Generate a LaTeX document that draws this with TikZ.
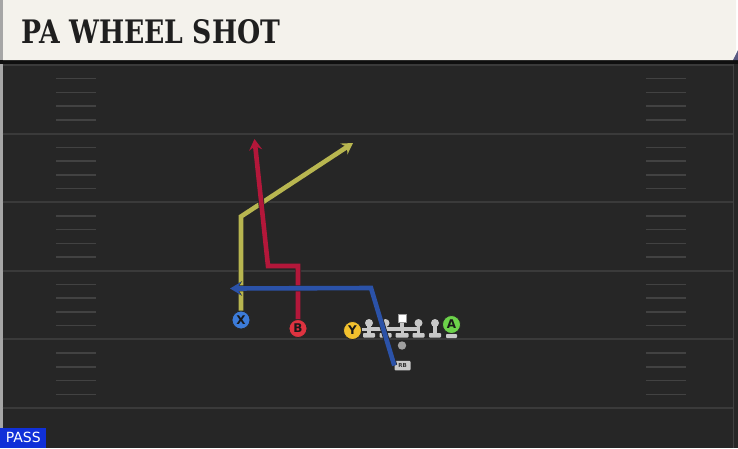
\documentclass[tikz,border=0pt]{standalone}
\usepackage{fontspec}
\usetikzlibrary{arrows.meta}
\newfontfamily\titlefont{DejaVu Serif}
\newfontfamily\labfont{DejaVu Sans}
\definecolor{fieldbg}{HTML}{262626}
\definecolor{yardc}{HTML}{3A3A3A}
\definecolor{hashc}{HTML}{424242}
\definecolor{cream}{HTML}{F4F2EC}
\definecolor{rtyel}{HTML}{B8B650}
\definecolor{rtred}{HTML}{B3173A}
\definecolor{rtblue}{HTML}{2B52A8}
\definecolor{pblue}{HTML}{3C7BD8}
\definecolor{pred}{HTML}{DE3340}
\definecolor{pyel}{HTML}{F2C12E}
\definecolor{pgreen}{HTML}{6CD24A}
\definecolor{lgrey}{HTML}{C8C8C8}
\definecolor{passblue}{HTML}{1030D8}
\tikzset{
  route/.style={line width=4.6pt, line join=miter, -{Stealth[length=11pt,width=13pt,inset=4pt]},
    preaction={draw=black!85, line width=6pt, -{Stealth[length=12pt,width=14.5pt,inset=4.5pt]}}},
  player/.style={circle, draw=black!85, line width=0.8pt, minimum size=18pt, inner sep=0pt,
    font=\labfont\bfseries\fontsize{12}{12}\selectfont, text=black!90},
  yardline/.style={draw=yardc, line width=2pt},
  hashmark/.style={draw=hashc, line width=1.5pt},
  lmen/.style={fill=lgrey, draw=none},
}
\begin{document}
\begin{tikzpicture}[x=1pt,y=-1pt]
\useasboundingbox (0,0) rectangle (738,448);
% field
\fill[fieldbg] (0,60) rectangle (738,448);
\fill[black!60!fieldbg] (0,60) rectangle (738,64);
\fill[black!35] (0,64) rectangle (2.5,448);
\draw[black!75, line width=1pt] (733.5,64) -- (733.5,448);
% yard lines
\foreach \y in {65,133.6,202.2,270.8,339.4,408}{
  \draw[yardline] (2.5,\y) -- (733,\y);
}
% hash marks
\foreach \y in {65,133.6,202.2,270.8,339.4}{
  \foreach \f in {1,2,3,4}{
    \draw[hashmark] (56,{\y+\f*13.72}) -- (96,{\y+\f*13.72});
    \draw[hashmark] (646,{\y+\f*13.72}) -- (686,{\y+\f*13.72});
  }
}
% header
\fill[cream] (3,0) -- (736,0) -- (736,51) -- (733,60) -- (3,60) -- cycle;
\fill[black!35] (0,0) rectangle (3,60);
\fill[black!50!blue!30!gray] (733,60) -- (738,50) -- (738,60) -- cycle;
\node[anchor=west, inner sep=0pt, text=black!88] (title) at (21,32)
  {\resizebox{259pt}{24pt}{\titlefont\bfseries PA WHEEL SHOT}};
% nodes for players
\node[player, fill=pblue] (X) at (241,320) {X};
\node[player, fill=pred] (B) at (298,328.5) {B};
\node[player, fill=pyel] (Y) at (352.5,330.5) {Y};
\node[player, fill=pgreen] (A) at (451.5,324.5) {A};
% route coordinates
\coordinate (x1) at (241,216.5);
\coordinate (x2) at (353,143);
\coordinate (b1) at (298,266);
\coordinate (b2) at (268,266);
\coordinate (b3) at (254.5,139);
\coordinate (r1) at (371,288);
\coordinate (r2) at (230,288.5);
% routes
\draw[route, rtyel] (X.north) -- (x1) -- (x2);
\draw[route, rtred] (B.north) -- (b1) -- (b2) -- (b3);
% line
\foreach \lx in {369,385.5,418.5,435}{
  \fill[lgrey] (\lx,323) circle (4pt);
  \fill[lgrey] (\lx-1.6,323) rectangle (\lx+1.6,334);
  \fill[lgrey, rounded corners=0.8pt] (\lx-6,333) rectangle (\lx+6,337.5);
}
\fill[lgrey] (361.5,327.5) rectangle (372,331);
\fill[lgrey] (369,327) rectangle (418.5,331);
\fill[lgrey] (400,317) rectangle (403.5,331);
\fill[lgrey, rounded corners=0.8pt] (395.5,333) rectangle (408.5,337.5);
\fill[lgrey] (400.5,330) rectangle (403.5,334);
\node[fill=white, draw=black!40, line width=0.4pt, minimum size=8.5pt, inner sep=0pt] (C) at (402,318) {};
\fill[lgrey, rounded corners=0.8pt] (446,334) rectangle (457,338);
\fill[gray!75] (402,345.5) circle (4.2pt);
% RB
\node[lmen, inner sep=0pt, minimum width=16pt, minimum height=9.5pt,
  rounded corners=1pt, font=\labfont\bfseries\fontsize{5.5}{5.5}\selectfont, text=black!80] (RB) at (402.5,365.5) {RB};
\draw[route, rtblue] (RB.west) -- (r1) -- (r2);
% PASS
\node[fill=passblue, anchor=south west, minimum width=46pt, minimum height=20pt, inner sep=0pt,
  text=white, font=\labfont\fontsize{14}{14}\selectfont] (pass) at (0,448) {PASS};
\end{tikzpicture}
\end{document}
